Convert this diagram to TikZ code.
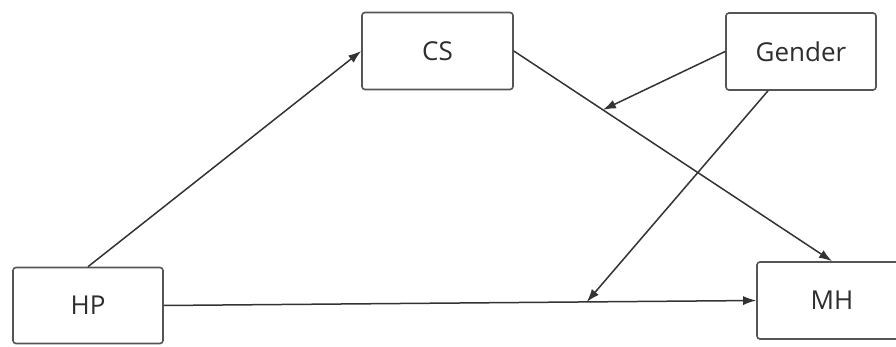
\documentclass[tikz,border=0pt]{standalone}
\usepackage{fontspec}
\setmainfont{Open Sans}
\usetikzlibrary{arrows.meta,calc}
\definecolor{boxline}{HTML}{555555}
\definecolor{arrline}{HTML}{333333}
\definecolor{txt}{HTML}{2E2E2E}
\begin{document}
\begin{tikzpicture}[x=1pt,y=1pt,
  box/.style={draw=boxline,line width=1.6pt,rounded corners=3pt,fill=white,
    minimum width=150pt,minimum height=76pt,inner sep=0pt,
    font=\fontsize{26}{30}\selectfont,text=txt},
  conn/.style={draw=arrline,line width=1.5pt,-{Latex[length=13pt,width=9pt]}}]
\useasboundingbox (0,0) rectangle (896,347);
\fill[white] (0,0) rectangle (896,347);
\node[box] (HP) at (88,41.5) {HP};
\node[box,minimum width=151pt,minimum height=77pt] (CS) at (437.5,296) {CS};
\node[box,minimum height=77pt] (G) at (801,295.5) {Gender};
\node[box,minimum height=77pt] (MH) at (832,46.5) {MH};
\coordinate (m1) at ($(CS.east)!0.28!(MH.north)$);
\coordinate (m2) at ($(HP.east)!0.714!(MH.west)$);
\draw[conn] (HP.north) -- (CS.west);
\draw[conn] (CS.east) -- (MH.north);
\draw[conn] (HP.east) -- (MH.west);
\draw[conn] (G.west) -- (m1);
\draw[conn] ([xshift=-33pt]G.south) -- (m2);
\end{tikzpicture}
\end{document}
